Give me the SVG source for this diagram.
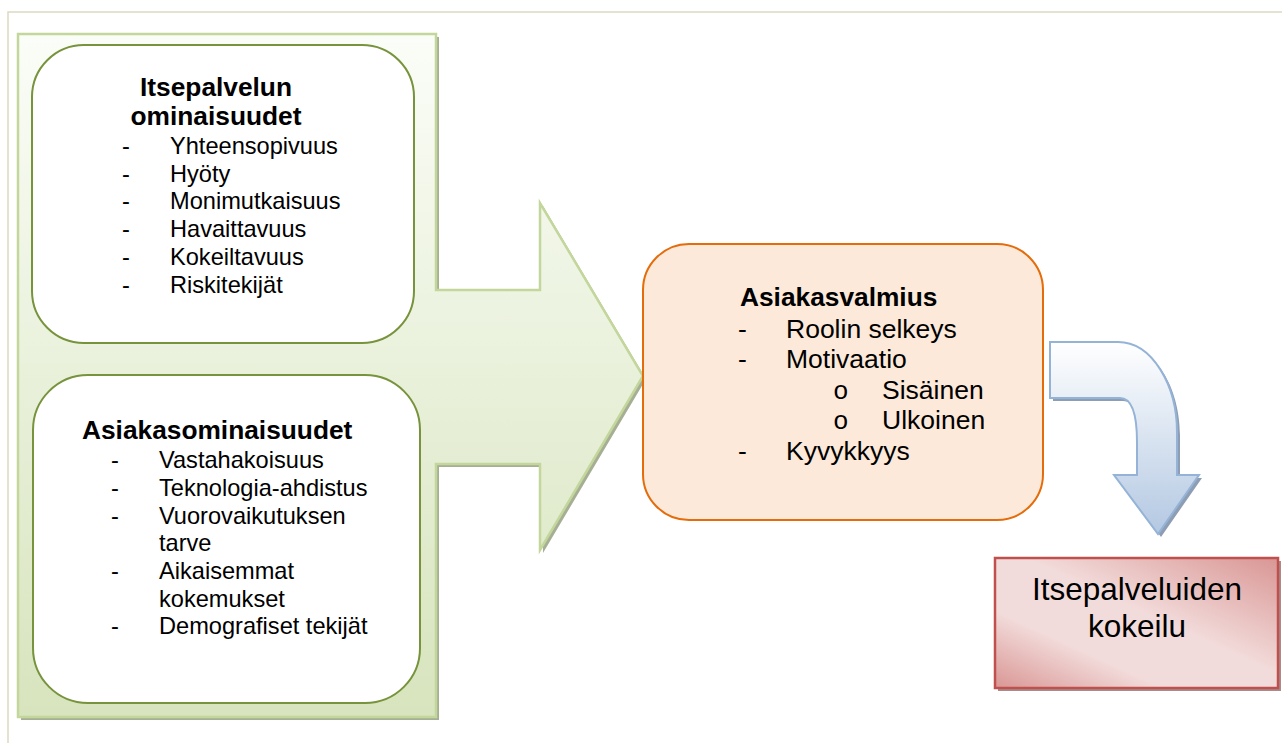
<svg xmlns="http://www.w3.org/2000/svg" width="1282" height="743" viewBox="0 0 1282 743">
  <style>
    text { font-family: "Liberation Sans", Arial, sans-serif; fill: #000; }
    .title { font-weight: bold; font-size: 26.3px; }
    .item { font-size: 23.6px; }
    .itemL { font-size: 26.5px; }
    text.sub { font-family: "Liberation Mono", "Courier New", monospace; font-size: 26px; }
    .box { fill: #ffffff; stroke: #77933c; stroke-width: 2; }
  </style>
  <defs>
    <linearGradient id="greenFill" x1="0" y1="0" x2="0" y2="1">
      <stop offset="0" stop-color="#fbfdf8"/>
      <stop offset="1" stop-color="#d7e4bd"/>
    </linearGradient>
    <linearGradient id="blueFill" x1="0" y1="0" x2="0" y2="1">
      <stop offset="0" stop-color="#ffffff"/>
      <stop offset="1" stop-color="#b3c8e2"/>
    </linearGradient>
    <linearGradient id="redFill" x1="0" y1="1" x2="1" y2="0">
      <stop offset="0" stop-color="#d99694"/>
      <stop offset="0.3" stop-color="#f2dcdb"/>
      <stop offset="0.55" stop-color="#f2dcdb"/>
      <stop offset="1" stop-color="#d99694"/>
    </linearGradient>
  </defs>

  <!-- page frame -->
  <path d="M8,743 L8,12 L1282,12" fill="none" stroke="#ddd9c3" stroke-width="1.5"/>

  <g id="connectors">
    <!-- large green block arrow holding the two input boxes -->
    <g id="green-arrow">
      <path transform="translate(3,3)" d="M18,34 L436,34 L436,290 L540,290 L540,203 L643,376 L540,550 L540,464 L436,464 L436,717 L18,717 Z" fill="#a6ae94"/>
      <path d="M18,34 L436,34 L436,290 L540,290 L540,203 L643,376 L540,550 L540,464 L436,464 L436,717 L18,717 Z" fill="url(#greenFill)" stroke="#c3d69b" stroke-width="2.5"/>
    </g>
    <!-- curved blue arrow down to the result -->
    <g id="blue-arrow">
      <path transform="translate(3,3)" d="M1050,342 L1118,342 C1152,342 1177,385 1177,432 L1177,475 L1199,475 L1158,534 L1114,475 L1137,475 L1137,442 C1137,416 1132,398 1120,398 L1050,398 Z" fill="#8d9db3"/>
      <path d="M1050,342 L1118,342 C1152,342 1177,385 1177,432 L1177,475 L1199,475 L1158,534 L1114,475 L1137,475 L1137,442 C1137,416 1132,398 1120,398 L1050,398 Z" fill="url(#blueFill)" stroke="#95b3d7" stroke-width="2"/>
    </g>
  </g>

  <g id="itsepalvelun-ominaisuudet">
    <rect class="box" x="32" y="45" width="382" height="298" rx="52" ry="52"/>
    <text class="title" x="216" y="96" text-anchor="middle">Itsepalvelun</text>
    <text class="title" x="216" y="125" text-anchor="middle">ominaisuudet</text>
    <g class="item">
      <text x="122" y="154">-</text><text x="170" y="154">Yhteensopivuus</text>
      <text x="122" y="182">-</text><text x="170" y="182">Hyöty</text>
      <text x="122" y="209">-</text><text x="170" y="209">Monimutkaisuus</text>
      <text x="122" y="237">-</text><text x="170" y="237">Havaittavuus</text>
      <text x="122" y="265">-</text><text x="170" y="265">Kokeiltavuus</text>
      <text x="122" y="293">-</text><text x="170" y="293">Riskitekijät</text>
    </g>
  </g>

  <g id="asiakasominaisuudet">
    <rect class="box" x="33" y="375" width="387" height="328" rx="55" ry="55"/>
    <text class="title" x="82" y="439">Asiakasominaisuudet</text>
    <g class="item">
      <text x="111" y="468">-</text><text x="159" y="468">Vastahakoisuus</text>
      <text x="111" y="496">-</text><text x="159" y="496">Teknologia-ahdistus</text>
      <text x="111" y="524">-</text><text x="159" y="524">Vuorovaikutuksen</text>
      <text x="159" y="551">tarve</text>
      <text x="111" y="579">-</text><text x="159" y="579">Aikaisemmat</text>
      <text x="159" y="607">kokemukset</text>
      <text x="111" y="634">-</text><text x="159" y="634">Demografiset tekijät</text>
    </g>
  </g>

  <g id="asiakasvalmius">
    <rect x="643" y="244" width="400" height="276" rx="46" ry="46" fill="#fde9d9" stroke="#e46c0a" stroke-width="2"/>
    <text class="title" x="740" y="306">Asiakasvalmius</text>
    <g class="itemL">
      <text x="738" y="338">-</text><text x="786" y="338">Roolin selkeys</text>
      <text x="738" y="368">-</text><text x="786" y="368">Motivaatio</text>
      <text class="sub" x="833" y="399">o</text><text x="882" y="399">Sisäinen</text>
      <text class="sub" x="833" y="429">o</text><text x="882" y="429">Ulkoinen</text>
      <text x="738" y="460">-</text><text x="786" y="460">Kyvykkyys</text>
    </g>
  </g>

  <g id="itsepalveluiden-kokeilu">
    <rect x="998" y="561" width="283" height="130" fill="#a88c8c"/>
    <rect x="995" y="558" width="283" height="130" fill="url(#redFill)" stroke="#c0504d" stroke-width="2.5"/>
    <text x="1137" y="600" text-anchor="middle" font-size="31.5">Itsepalveluiden</text>
    <text x="1137" y="637" text-anchor="middle" font-size="31.5">kokeilu</text>
  </g>
</svg>
